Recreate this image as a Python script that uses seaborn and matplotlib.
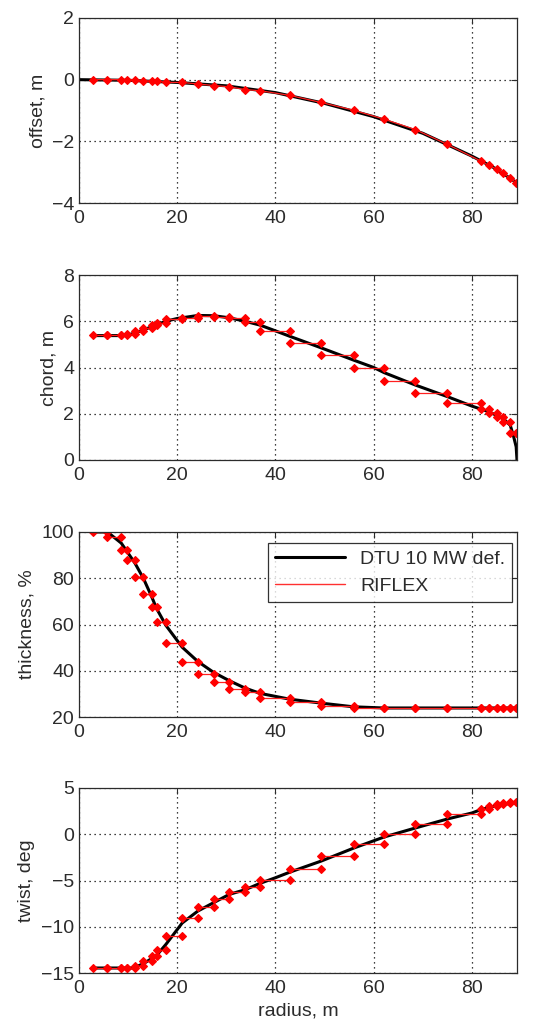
import numpy as np
import pandas as pd
import matplotlib
matplotlib.use("Agg")
import matplotlib.pyplot as plt
import seaborn as sns
from matplotlib.lines import Line2D

# ---------------- data ----------------
# RIFLEX element nodes (radius, m)
nodes = [2.8, 5.8, 8.6, 9.7, 11.4, 13.1, 14.8, 15.8, 17.7, 21.0, 24.2, 27.4, 30.6,
         33.8, 36.9, 42.9, 49.3, 55.9, 62.1, 68.5, 75.0, 81.8, 83.4, 85.0, 86.3,
         87.8, 89.0]
# RIFLEX nodal offset (m)
riflex_offset = [0.0, 0.0, 0.0, 0.0, 0.0, -0.04, -0.04, -0.04, -0.09, -0.09, -0.14,
                 -0.19, -0.23, -0.32, -0.36, -0.51, -0.74, -0.99, -1.28, -1.62,
                 -2.10, -2.64, -2.78, -2.90, -3.04, -3.19, -3.35]
# RIFLEX element (constant) properties
riflex_chord = [5.41, 5.41, 5.41, 5.46, 5.57, 5.70, 5.82, 5.92, 6.08, 6.16, 6.22,
                6.20, 6.12, 5.97, 5.60, 5.06, 4.55, 3.99, 3.43, 2.91, 2.46, 2.19,
                2.02, 1.87, 1.63, 1.18]
riflex_thick = [100.0, 97.8, 92.3, 87.9, 80.7, 73.4, 67.6, 61.1, 51.9, 43.9, 38.4,
                35.2, 32.3, 30.6, 28.1, 26.5, 24.9, 24.1, 24.1, 24.1, 24.1, 24.1,
                24.1, 24.1, 24.1, 24.1]
riflex_twist = [-14.46, -14.46, -14.46, -14.46, -14.21, -13.74, -13.2, -12.48,
                -10.96, -9.02, -7.9, -7.04, -6.28, -5.74, -4.91, -3.76, -2.39,
                -1.05, 0.03, 1.14, 2.19, 2.77, 3.02, 3.23, 3.38, 3.45]

# DTU 10 MW definition
dtu_off_r = [0.0, 10.0, 20.0, 30.0, 40.0, 50.0, 60.0, 70.0, 80.0, 85.0, 89.17]
dtu_off_v = [0.0, -0.02, -0.09, -0.2, -0.42, -0.77, -1.20, -1.74, -2.48, -2.90, -3.35]

dtu_chord_r = [2.8, 8.0, 10.0, 13.1, 15.8, 17.7, 20.0, 24.2, 27.4, 30.6, 33.8, 36.9,
               39.8, 42.9, 49.3, 55.9, 60.0, 62.1, 68.5, 75.0, 80.0, 83.4, 86.3,
               87.8, 88.5, 89.0, 89.17]
dtu_chord_v = [5.38, 5.38, 5.40, 5.62, 5.85, 6.00, 6.12, 6.25, 6.24, 6.15, 6.00, 5.83,
               5.60, 5.35, 4.85, 4.32, 4.00, 3.78, 3.24, 2.74, 2.33, 2.09, 1.80,
               1.50, 1.00, 0.57, 0.0]

dtu_thick_r = [2.8, 5.8, 8.6, 11.4, 13.1, 14.8, 15.8, 17.7, 21.0, 24.2, 27.4, 30.6,
               33.8, 36.9, 42.9, 49.3, 55.9, 62.1, 89.17]
dtu_thick_v = [100.0, 100.0, 95.2, 86.5, 80.0, 72.0, 66.9, 59.6, 50.2, 44.0, 39.3,
               35.7, 32.5, 30.2, 27.7, 26.0, 24.4, 23.9, 23.9]

dtu_twist_r = [2.8, 11.0, 13.1, 15.8, 17.7, 20.0, 21.0, 24.2, 27.4, 30.6, 33.8, 36.9,
               40.0, 42.9, 49.3, 55.9, 62.1, 68.5, 75.0, 80.0, 81.8, 85.0, 89.17]
dtu_twist_v = [-14.46, -14.46, -14.0, -13.1, -11.9, -10.3, -9.6, -8.3, -7.4, -6.5,
               -6.0, -5.3, -4.7, -4.1, -2.9, -1.5, -0.3, 0.68, 1.65, 2.3, 2.66, 3.1,
               3.45]

x_ticks = [0, 20, 40, 60, 80]
ylabels = ["offset, m", "chord, m", "thickness, %", "twist, deg"]
yticks = [[-4, -2, 0, 2], [0, 2, 4, 6, 8], [20, 40, 60, 80, 100], [-15, -10, -5, 0, 5]]
legend_labels = ["DTU 10 MW def.", "RIFLEX"]

# ---------------- style ----------------
sns.set_style("white")
plt.rcParams['font.family'] = ['Liberation Sans', 'DejaVu Sans']
plt.rcParams['font.size'] = 14

TXT = "#2b2b2b"
fig = plt.figure(figsize=(5.35, 10.3), dpi=100)
left, width, height = 79 / 535, 438 / 535, 185 / 1030
tops = [18, 275, 532, 788]
axes = [fig.add_axes([left, 1 - (t + 185) / 1030, width, height]) for t in tops]


def element_frame(vals):
    rows = []
    for i, v in enumerate(vals):
        rows.append({"r": nodes[i], "v": v, "e": i})
        rows.append({"r": nodes[i + 1], "v": v, "e": i})
    return pd.DataFrame(rows)


dtu = [(dtu_off_r, dtu_off_v), (dtu_chord_r, dtu_chord_v),
       (dtu_thick_r, dtu_thick_v), (dtu_twist_r, dtu_twist_v)]
riflex = [None, riflex_chord, riflex_thick, riflex_twist]
mk = dict(marker="D", markersize=3.8, markeredgecolor="red",
          markerfacecolor="red", markeredgewidth=0.8)

for k, ax in enumerate(axes):
    dr, dv = dtu[k]
    sns.lineplot(x=dr, y=dv, ax=ax, color="black", lw=2.2, sort=False, legend=False)
    if k == 0:
        sns.lineplot(x=nodes, y=riflex_offset, ax=ax, color="#ff2020", lw=0.9,
                     sort=False, legend=False, **mk)
    else:
        df = element_frame(riflex[k])
        sns.lineplot(data=df, x="r", y="v", units="e", estimator=None, ax=ax,
                     color="#ff2020", lw=0.9, sort=False, legend=False, **mk)
    ax.set_xlim(0, 89.17)
    ax.set_ylim(yticks[k][0], yticks[k][-1])
    ax.set_xticks(x_ticks)
    ax.set_yticks(yticks[k])
    ax.grid(True, color="black", linestyle=(0, (1, 3)), linewidth=0.9)
    ax.set_ylabel(ylabels[k], color=TXT)
    ax.set_xlabel("")
    for s in ax.spines.values():
        s.set_color(TXT)
        s.set_linewidth(0.9)
    ax.tick_params(direction="in", length=4, top=True, right=True,
                   colors=TXT, labelsize=14, width=0.8)
    ax.tick_params(axis="x", pad=5)

axes[3].set_xlabel("radius, m", color=TXT)

handles = [Line2D([], [], color="black", lw=2.2),
           Line2D([], [], color="#ff3030", lw=1.0)]
leg = axes[2].legend(handles, legend_labels, loc="upper right",
                     frameon=True, fancybox=False, edgecolor="black",
                     fontsize=14, handlelength=3.6, borderpad=0.35,
                     borderaxespad=0.0, bbox_to_anchor=(0.9886, 0.94))
leg.get_frame().set_linewidth(0.9)
for t in leg.get_texts():
    t.set_color(TXT)

fig.savefig("out.png", dpi=100)
